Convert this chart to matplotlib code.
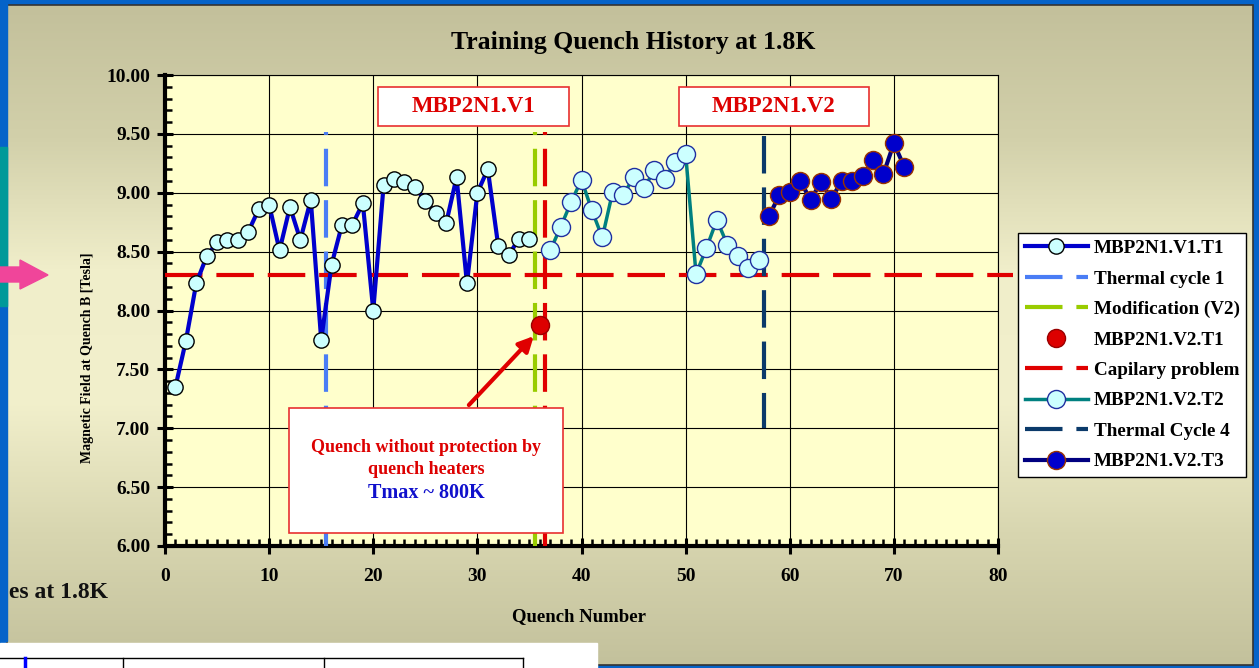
import matplotlib
matplotlib.use('Agg')
import matplotlib.pyplot as plt
import numpy as np
from matplotlib.patches import Rectangle, Polygon
from matplotlib.ticker import MultipleLocator, FormatStrFormatter
from matplotlib.colors import LinearSegmentedColormap

plt.rcParams['font.family'] = ['Liberation Serif', 'DejaVu Serif']
plt.rcParams['font.weight'] = 'bold'
plt.rcParams['lines.scale_dashes'] = False

# Data
v1_x = list(range(1, 36))
v1_y = [7.35, 7.74, 8.23, 8.46, 8.58, 8.60, 8.60, 8.67, 8.86, 8.90,
        8.51, 8.88, 8.60, 8.94, 7.75, 8.39, 8.73, 8.73, 8.91, 8.00,
        9.07, 9.12, 9.09, 9.05, 8.93, 8.83, 8.74, 9.13, 8.23, 9.00,
        9.20, 8.55, 8.47, 8.61, 8.61]
v2t1_x = [36]
v2t1_y = [7.88]
v2t2_x = list(range(37, 58))
v2t2_y = [8.51, 8.71, 8.92, 9.11, 8.85, 8.62, 9.01, 8.98, 9.13, 9.04,
          9.19, 9.12, 9.26, 9.33, 8.31, 8.53, 8.77, 8.56, 8.46, 8.36, 8.43]
v2t3_x = list(range(58, 72))
v2t3_y = [8.80, 8.98, 9.01, 9.10, 8.94, 9.09, 8.95, 9.10, 9.10, 9.14,
          9.28, 9.16, 9.42, 9.22]

thermal1_x = 15.5
modif_x = 35.5
capil_x = 36.5
capil_level = 8.3
thermal4_x = 57.5

W, H = 1259, 668
fig = plt.figure(figsize=(W / 100, H / 100), dpi=100)
fig.patch.set_facecolor('#0563C9')

# background panel (pixel coordinates)
bg = fig.add_axes([0, 0, 1, 1], zorder=0)
bg.set_xlim(0, W)
bg.set_ylim(H, 0)
bg.axis('off')
cmap = LinearSegmentedColormap.from_list('khaki', ['#C3C09B', '#D2D0AA', '#F0EECA', '#F2F0CC', '#D8D6B0', '#C3C19C'])
grad = np.linspace(0, 1, 256).reshape(-1, 1)
bg.imshow(grad, cmap=cmap, aspect='auto', extent=[7, 1253, 665, 5], zorder=1)
bg.add_patch(Rectangle((7, 5), 1246, 660, fill=False, edgecolor='#333333', lw=1.2, zorder=2))
bg.text(108, 592, 'es at 1.8K', fontsize=17, ha='right', va='center', color='#111111', zorder=3)
bg.add_patch(Rectangle((0, 0), 7, 641, color='#0563C9', zorder=4))
bg.add_patch(Rectangle((0, 147), 7, 159, color='#009999', zorder=5))
bg.add_patch(Polygon([[0, 267], [20, 267], [20, 260], [48, 275], [20, 289], [20, 282], [0, 282]],
                     closed=True, color='#F0459A', zorder=6))
bg.add_patch(Rectangle((0, 643), 597, 25, color='white', zorder=6))
bg.plot([0, 523], [658, 658], color='black', lw=1, zorder=7)
for xv in [123, 324, 523]:
    bg.plot([xv, xv], [658, 668], color='black', lw=1, zorder=7)
bg.plot([25, 25], [658, 668], color='#0000FF', lw=2.5, zorder=7)

# main axes
ax = fig.add_axes([165 / W, 1 - 546 / H, (998 - 165) / W, (546 - 75) / H], zorder=1)
ax.set_facecolor('#FFFFCC')

ax.plot(v1_x, v1_y, color='#0000CC', lw=3, marker='o', markersize=11,
        markerfacecolor='#CCFFFF', markeredgecolor='black', markeredgewidth=1,
        label='MBP2N1.V1.T1', zorder=5)
ax.plot([thermal1_x, thermal1_x], [6.0, 9.52], color='#4A7DF5', lw=3,
        dashes=(27, 10), label='Thermal cycle 1', zorder=3)
ax.plot([modif_x, modif_x], [6.0, 9.52], color='#99CC00', lw=3,
        dashes=(27, 10), label='Modification (V2)', zorder=3)
ax.plot(v2t1_x, v2t1_y, linestyle='none', marker='o', markersize=13,
        markerfacecolor='#DD0000', markeredgecolor='#990000', markeredgewidth=1,
        label='MBP2N1.V2.T1', zorder=6)
ax.plot([0, 81.4], [capil_level, capil_level], color='#E00000', lw=3,
        dashes=(27, 10), label='Capilary problem', zorder=3, clip_on=False)
ax.plot([capil_x, capil_x], [6.0, 9.52], color='#E00000', lw=3,
        dashes=(27, 10), zorder=3)
ax.plot(v2t2_x, v2t2_y, color='#008080', lw=2.5, marker='o', markersize=13,
        markerfacecolor='#CCFFFF', markeredgecolor='#1F2FA0', markeredgewidth=1,
        label='MBP2N1.V2.T2', zorder=5)
ax.plot([thermal4_x, thermal4_x], [9.48, 7.0], color='#0B3A6A', lw=3,
        dashes=(27, 10), label='Thermal Cycle 4', zorder=3)
ax.plot(v2t3_x, v2t3_y, color='#000080', lw=3, marker='o', markersize=13,
        markerfacecolor='#0000CC', markeredgecolor='#993300', markeredgewidth=1,
        label='MBP2N1.V2.T3', zorder=5)

ax.set_xlim(0, 80)
ax.set_ylim(6, 10)
ax.xaxis.set_major_locator(MultipleLocator(10))
ax.xaxis.set_minor_locator(MultipleLocator(1))
ax.yaxis.set_major_locator(MultipleLocator(0.5))
ax.yaxis.set_minor_locator(MultipleLocator(0.1))
ax.yaxis.set_major_formatter(FormatStrFormatter('%.2f'))
ax.grid(True, which='major', color='black', lw=0.8)
ax.set_axisbelow(True)
ax.tick_params(which='major', direction='inout', length=11, width=2.2, labelsize=14, color='black')
ax.tick_params(axis='x', which='major', pad=10)
ax.tick_params(axis='y', which='major', pad=5)
ax.tick_params(which='minor', direction='in', length=5, width=1.8, color='black')
for side in ['left', 'bottom']:
    ax.spines[side].set_linewidth(3)
for side in ['top', 'right']:
    ax.spines[side].set_linewidth(0.8)

# arrow to the unprotected quench
ax.annotate('', xy=(35.6, 7.80), xytext=(29.0, 7.18),
            arrowprops=dict(arrowstyle='-|>,head_length=0.9,head_width=0.45', color='#E00000', lw=3),
            zorder=7)

leg = ax.legend(loc='upper left', bbox_to_anchor=(1018 / W, 1 - 233 / H),
                bbox_transform=fig.transFigure, borderaxespad=0, fontsize=13.8,
                handlelength=3.3, handletextpad=0.3, labelspacing=0.68,
                borderpad=0.35, numpoints=1, fancybox=False, framealpha=1,
                edgecolor='black', facecolor='white')
leg.get_frame().set_linewidth(1)

# overlay for texts and boxes (pixel coordinates)
ov = fig.add_axes([0, 0, 1, 1], zorder=2)
ov.set_xlim(0, W)
ov.set_ylim(H, 0)
ov.axis('off')
ov.patch.set_alpha(0)

fig.text(633 / W, 1 - 42 / H, 'Training Quench History at 1.8K', fontsize=18.5,
         ha='center', va='center', color='black')
fig.text(579 / W, 1 - 617 / H, 'Quench Number', fontsize=13.5,
         ha='center', va='center', color='black')
fig.text(88 / W, 1 - 358 / H, 'Magnetic Field at Quench B [Tesla]', fontsize=10,
         rotation=90, ha='center', va='center', color='black')

for x0, x1, label in [(378, 569, 'MBP2N1.V1'), (679, 869, 'MBP2N1.V2')]:
    ov.add_patch(Rectangle((x0, 87), x1 - x0, 39, facecolor='white', edgecolor='#E83030', lw=1.2))
    ov.text((x0 + x1) / 2, 107, label, fontsize=16.5, color='#DD0000', ha='center', va='center')

ov.add_patch(Rectangle((289, 408), 274, 125, facecolor='white', edgecolor='#E83030', lw=1.2))
ov.text(426, 448, 'Quench without protection by', fontsize=13, color='#DD0000', ha='center', va='center')
ov.text(426, 469, 'quench heaters', fontsize=13, color='#DD0000', ha='center', va='center')
ov.text(426, 493, 'Tmax ~ 800K', fontsize=14.5, color='#1010CC', ha='center', va='center')

plt.savefig('out.png', dpi=100, facecolor=fig.get_facecolor())
